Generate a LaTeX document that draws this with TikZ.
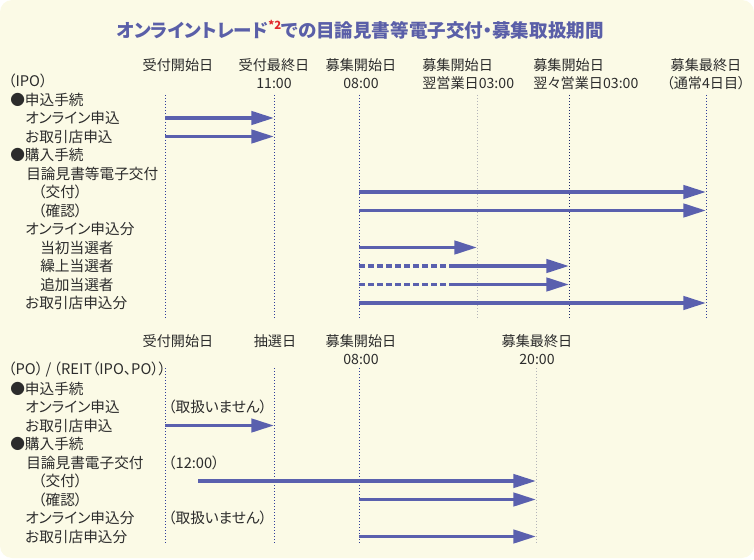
\documentclass[tikz,border=0pt]{standalone}
\usepackage{fontspec}
\setmainfont{Noto Sans CJK JP}[RawFeature=+palt]
\usetikzlibrary{arrows.meta}

\definecolor{cream}{HTML}{FBFAE6}
\definecolor{flowblue}{HTML}{5A60AE}
\definecolor{lineblue}{HTML}{2F3C9A}
\definecolor{linedark}{HTML}{1E2A6E}
\definecolor{linegray}{HTML}{B4B4BA}
\definecolor{txt}{HTML}{2C2C2C}
\definecolor{titleblue}{HTML}{5A5FA8}
\definecolor{notered}{HTML}{E0262B}

\newcommand\lblfont{\fontsize{11}{13.5}\selectfont}
\newcommand\hdrfont{\fontsize{10.6}{13.5}\selectfont}

\tikzset{
  lbl/.style={anchor=west, inner sep=0pt, font=\lblfont, text=txt},
  hdr/.style={inner sep=0pt, font=\hdrfont, text=txt, align=center},
  vline/.style={line width=0.75pt, dash pattern=on 0.75pt off 1.5pt},
  flow/.style={draw=flowblue, line width=2.6pt, -{Triangle[length=17pt,width=10pt]}},
  flowdash/.style={draw=flowblue, line width=2.4pt, dash pattern=on 4.5pt off 2.25pt}
}

\begin{document}
\begin{tikzpicture}[x=0.75pt,y=-0.75pt]
    \useasboundingbox (0,0) rectangle (754,560);
    \fill[cream, rounded corners=9pt] (0,0) rectangle (754,558);

    % Title
    \node[inner sep=0pt, text=titleblue, font=\bfseries\fontsize{13.9}{15}\selectfont] (title) at (360,30)
      {オンライントレード\raisebox{0.4em}{\fontsize{8.5}{8.5}\selectfont\color{notered}*2}での目論見書等電子交付・募集取扱期間};

    % IPO
    \node[hdr] (ha1) at (178,65) {受付開始日};
    \node[hdr] (ha2) at (274,74) {受付最終日\\11:00};
    \node[hdr] (ha3) at (361,74) {募集開始日\\08:00};
    \node[hdr, align=left, anchor=west] (ha4) at (422,74) {募集開始日\\翌営業日03:00};
    \node[hdr, align=left, anchor=west] (ha5) at (533,74) {募集開始日\\翌々営業日03:00};
    \node[hdr] (ha6) at (706,74) {募集最終日\\（通常4日目）};

    \foreach \x/\c [count=\i] in {165/lineblue, 274/lineblue, 359/lineblue, 477/linegray, 569/linedark, 706/lineblue}{
      \coordinate (a\i) at (\x,95);
      \draw[vline, draw=\c] (a\i) -- ++(0,223);
    }

    \foreach \x/\t [count=\i] in {
        8/（IPO）,
        10/●申込手続,
        25/オンライン申込,
        25/お取引店申込,
        10/●購入手続,
        26/目論見書等電子交付,
        38/（交付）,
        38/（確認）,
        25/オンライン申込分,
        40/当初当選者,
        40/繰上当選者,
        40/追加当選者,
        25/お取引店申込分}{
      \node[lbl] (ra\i) at (\x,{62.5+18.5*\i}) {\t};
    }

    \draw[flow] (a1 |- ra3) -- (a2 |- ra3);
    \draw[flow] (a1 |- ra4) -- (a2 |- ra4);
    \draw[flow] (a3 |- ra7) -- (a6 |- ra7);
    \draw[flow] (a3 |- ra8) -- (a6 |- ra8);
    \draw[flow] (a3 |- ra10) -- (a4 |- ra10);
    \coordinate (da) at (449,95);
    \foreach \r in {ra11, ra12}{
      \draw[flowdash] (a3 |- \r) -- (da |- \r);
      \draw[flow] (da |- \r) -- (a5 |- \r);
    }
    \draw[flow] (a3 |- ra13) -- (a6 |- ra13);

    % PO / REIT
    \node[hdr] (hb1) at (178,341) {受付開始日};
    \node[hdr] (hb2) at (275,341) {抽選日};
    \node[hdr] (hb3) at (361,350) {募集開始日\\08:00};
    \node[hdr] (hb4) at (537,350) {募集最終日\\20:00};

    \foreach \x/\c [count=\i] in {165/lineblue, 274/lineblue, 359/lineblue, 536/linegray}{
      \coordinate (b\i) at (\x,368);
      \draw[vline, draw=\c] (b\i) -- ++(0,177);
    }

    \foreach \x/\t [count=\i] in {
        8/{（PO）\,/\,（REIT（IPO、PO））},
        10/●申込手続,
        25/オンライン申込,
        25/お取引店申込,
        10/●購入手続,
        26/目論見書電子交付,
        38/（交付）,
        38/（確認）,
        25/オンライン申込分,
        25/お取引店申込分}{
      \node[lbl] (rb\i) at (\x,{351.5+18.5*\i}) {\t};
    }

    \node[lbl] (nb1) at (168,407) {（取扱いません）};
    \node[lbl] (nb2) at (168,463) {（12:00）};
    \node[lbl] (nb3) at (168,518) {（取扱いません）};

    \draw[flow] (b1 |- rb4) -- (b2 |- rb4);
    \coordinate (tb) at (198,368);
    \draw[flow] (tb |- rb7) -- (b4 |- rb7);
    \draw[flow] (b3 |- rb8) -- (b4 |- rb8);
    \draw[flow] (b3 |- rb10) -- (b4 |- rb10);

\end{tikzpicture}
\end{document}
